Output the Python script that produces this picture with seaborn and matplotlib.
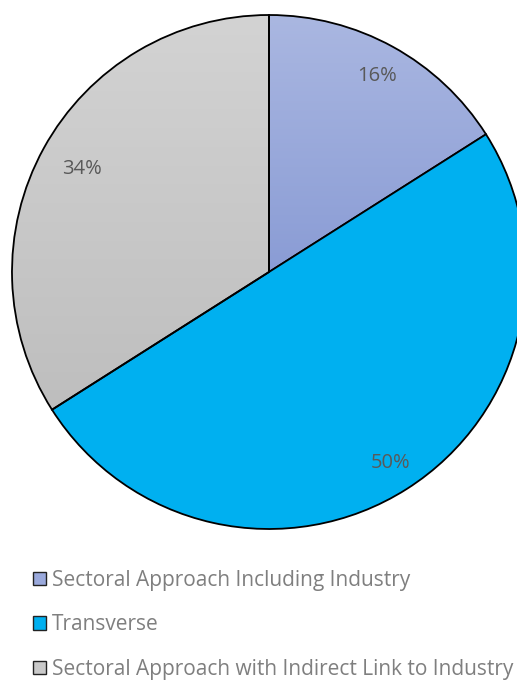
import numpy as np
import matplotlib
matplotlib.use("Agg")
import matplotlib.pyplot as plt
from matplotlib.patches import Patch
import seaborn as sns

sns.set_style("white")
plt.rcParams["font.family"] = ["Open Sans", "DejaVu Sans"]

categories = [
    "Sectoral Approach Including Industry",
    "Transverse",
    "Sectoral Approach with Indirect Link to Industry",
]
shares = [16, 50, 34]
base_colors = ["#9AA9DC", "#00B0F0", "#C9C9C9"]
# top/bottom colours for slices filled with a vertical gradient (None = flat)
gradients = [("#AAB7E1", "#8A9CD5"), None, ("#D3D3D3", "#BEBEBE")]
# radial position of each percentage label, as a fraction of the radius
label_dist = [0.87, 0.88, 0.83]

W, H = 517, 680
fig = plt.figure(figsize=(W / 100, H / 100), dpi=100)
ax = fig.add_axes([0, 0, 1, 1])

cx, cy, r = 269, H - 272, 257

wedges, texts, autotexts = ax.pie(
    shares,
    colors=base_colors,
    startangle=90,
    counterclock=False,
    center=(cx, cy),
    radius=r,
    autopct="%1.0f%%",
    pctdistance=0.86,
    wedgeprops=dict(edgecolor="black", linewidth=1.3),
    textprops=dict(color="#595959", fontsize=14.5),
    frame=True,
)
ax.set_aspect("equal")
ax.axis("off")

for w, t, d in zip(wedges, autotexts, label_dist):
    mid = np.deg2rad((w.theta1 + w.theta2) / 2)
    t.set_position((cx + d * r * np.cos(mid), cy + d * r * np.sin(mid)))

for w, g in zip(wedges, gradients):
    if g is None:
        continue
    top = np.array(matplotlib.colors.to_rgb(g[0]))
    bot = np.array(matplotlib.colors.to_rgb(g[1]))
    t = np.linspace(0, 1, 256)[:, None]
    grad = (top * (1 - t) + bot * t)[:, None, :]
    bb = w.get_path().get_extents(w.get_patch_transform())
    img = ax.imshow(
        grad,
        extent=(bb.x0, bb.x1, bb.y0, bb.y1),
        origin="upper",
        aspect="auto",
        zorder=w.get_zorder() - 0.1,
        interpolation="bilinear",
    )
    img.set_clip_path(w)
    w.set_facecolor("none")

ax.set_xlim(0, W)
ax.set_ylim(0, H)

handles = [
    Patch(facecolor=c, edgecolor="#222222", linewidth=1.0) for c in base_colors
]
leg = fig.legend(
    handles,
    categories,
    loc="upper left",
    bbox_to_anchor=(33 / W, 1 - 570 / H),
    frameon=False,
    borderpad=0,
    borderaxespad=0,
    fontsize=15,
    labelcolor="#7F7F7F",
    handlelength=0.6,
    handleheight=0.6,
    handletextpad=0.3,
    labelspacing=1.12,
)

fig.savefig("out.png", dpi=100)
